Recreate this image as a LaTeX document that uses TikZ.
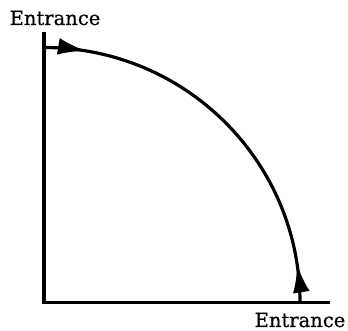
\documentclass[tikz,border=0pt]{standalone}
\usepackage{fontspec}
\setmainfont{DejaVu Serif}[FakeBold=0.8]
\usepackage{tikz}
\usetikzlibrary{arrows.meta, positioning, decorations.markings}
\tikzset{
    axisline/.style={line width=3.2pt, line join=miter},
    pathline/.style={line width=3.2pt, decoration={markings,
        mark=at position 0.105 with {\arrow{Latex[length=28pt,width=17pt]}},
        mark=at position 0.905 with {\arrowreversed{Latex[length=28pt,width=17pt]}}},
        postaction={decorate}},
    entrance/.style={font=\fontsize{19.5}{22}\selectfont, inner sep=0pt, anchor=base}
}

\begin{document}
\begin{tikzpicture}[x=1pt, y=1pt]
\useasboundingbox (0,0) rectangle (348,331);

\coordinate (origin) at (44,28.5);
\coordinate (ytop) at (44,299);
\coordinate (xend) at (330,28.5);
\coordinate (start) at (44,283.5);
\coordinate (stop) at (300,28.5);

\node[entrance] (entrtop) at (55,306) {Entrance};
\node[entrance] (entrbot) at (300,4) {Entrance};

\draw[axisline] (ytop) -- (origin) -- (xend);
\draw[pathline] (start) arc[start angle=90, end angle=0, x radius=256, y radius=255];

\end{tikzpicture}
\end{document}
